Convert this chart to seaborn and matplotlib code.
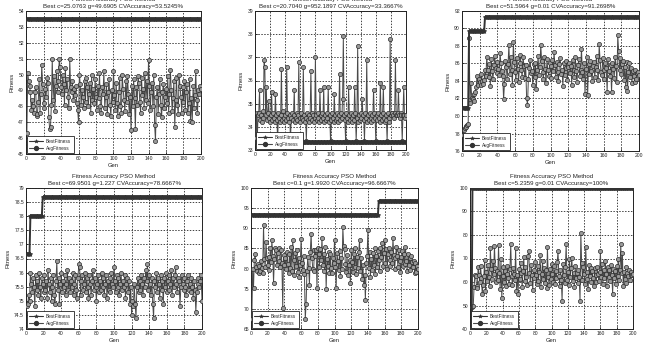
import numpy as np
import matplotlib
matplotlib.use("Agg")
import matplotlib.pyplot as plt
from matplotlib.lines import Line2D
import seaborn as sns

# ---------------- data ----------------
titles = [
    "Fitness Accuracy PSO Method\nBest c=25.0763 g=49.6905 CVAccuracy=53.5245%",
    "Fitness Accuracy PSO Method\nBest c=20.7040 g=952.1897 CVAccuracy=33.3667%",
    "Fitness Accuracy PSO Method\nBest c=51.5964 g=0.01 CVAccuracy=91.2698%",
    "Fitness Accuracy PSO Method\nBest c=69.9501 g=1.227 CVAccuracy=78.6667%",
    "Fitness Accuracy PSO Method\nBest c=0.1 g=1.9920 CVAccuracy=96.6667%",
    "Fitness Accuracy PSO Method\nBest c=5.2359 g=0.01 CVAccuracy=100%",
]

# best fitness: step levels and how many generations each lasts
best1_levels = [53.5245]; best1_lengths = [200]
best2_levels = [33.3667]; best2_lengths = [200]
best3_levels = [80.9524, 89.6825, 91.2698]; best3_lengths = [7, 18, 175]
best4_levels = [76.6667, 78.0, 78.6667]; best4_lengths = [4, 14, 182]
best5_levels = [93.3333, 96.6667]; best5_lengths = [152, 48]
best6_levels = [40.0, 100.0]; best6_lengths = [2, 198]

avg1 = [46.3, 50.1, 49.6, 49.3, 48.9, 47.8, 48.4, 48.0, 47.6, 48.9, 49.2, 47.4, 47.5, 48.3, 49.7, 47.6, 48.8, 50.6, 49.4, 48.2,
        47.9, 49.1, 48.6, 49.8, 49.5, 47.3, 46.6, 46.7, 48.1, 51.0, 48.4, 49.9, 47.7, 49.3, 50.2, 48.9, 49.6, 51.0, 50.5, 49.2,
        48.8, 50.0, 49.4, 48.1, 50.4, 49.0, 49.7, 48.6, 47.9, 51.0, 49.2, 48.9, 49.6, 48.4, 49.1, 48.7, 49.3, 48.2, 47.8, 47.0,
        50.0, 49.4, 48.1, 49.0, 48.6, 47.9, 49.6, 48.3, 49.8, 49.2, 48.0, 48.8, 49.5, 47.6, 50.0, 48.4, 49.1, 48.2, 49.7, 48.6,
        47.8, 49.3, 48.5, 50.1, 48.0, 47.6, 49.2, 48.8, 50.2, 47.9, 48.6, 49.4, 47.5, 48.9, 49.7, 48.1, 47.4, 49.0, 48.3, 50.2,
        48.7, 47.8, 49.5, 48.2, 47.4, 48.9, 49.8, 48.0, 47.6, 50.0, 49.1, 48.4, 47.7, 49.6, 48.3, 49.9, 48.8, 47.5, 48.6, 46.5,
        49.3, 48.0, 49.7, 48.5, 46.6, 49.2, 48.1, 49.9, 49.5, 48.3, 47.6, 49.8, 48.7, 49.1, 47.9, 50.1, 48.4, 49.6, 48.2, 50.9,
        49.3, 47.8, 48.9, 49.5, 48.0, 50.0, 46.8, 45.8, 48.6, 49.2, 47.5, 48.8, 49.7, 48.1, 47.3, 48.9, 49.4, 47.9, 48.6, 49.1,
        48.2, 49.9, 47.6, 48.8, 50.3, 49.0, 47.7, 48.5, 49.6, 46.7, 48.4, 49.8, 48.1, 47.5, 50.0, 49.3, 48.6, 47.6, 49.2, 48.3,
        49.6, 47.8, 48.9, 49.4, 47.6, 48.2, 49.7, 47.1, 48.5, 47.0, 49.3, 47.9, 48.7, 50.2, 48.4, 47.6, 49.0, 48.8, 49.3, 49.1]

avg2 = [33.5, 34.6, 33.4, 34.5, 34.6, 35.6, 34.3, 34.5, 34.2, 34.7, 34.4, 36.9, 36.6, 34.5, 35.7, 34.3, 34.6, 35.1, 34.4, 34.2,
        34.5, 35.5, 34.3, 34.6, 34.4, 34.2, 35.4, 34.5, 34.3, 33.4, 34.6, 34.4, 34.2, 34.5, 36.5, 34.3, 34.7, 34.4, 34.2, 34.5,
        34.3, 36.6, 34.6, 34.4, 34.2, 34.5, 33.4, 34.4, 34.6, 34.3, 34.5, 35.6, 34.2, 34.4, 34.6, 34.3, 34.5, 36.8, 34.4, 34.2,
        34.6, 34.4, 34.3, 36.6, 34.5, 34.2, 34.4, 33.4, 34.6, 34.3, 34.5, 34.2, 34.4, 36.4, 34.6, 34.3, 34.5, 34.2, 34.4, 37.0,
        34.5, 34.3, 34.6, 34.4, 34.2, 35.6, 34.5, 34.3, 34.6, 34.4, 35.7, 34.2, 34.5, 34.3, 34.6, 34.4, 35.7, 34.2, 34.5, 33.4,
        34.3, 34.6, 34.4, 34.2, 35.4, 34.5, 34.3, 34.6, 34.4, 34.2, 34.5, 36.3, 34.3, 34.6, 34.4, 35.2, 37.9, 34.5, 34.3, 33.4,
        34.6, 34.4, 34.2, 35.7, 34.5, 34.3, 34.6, 34.4, 34.2, 34.5, 34.3, 35.7, 34.6, 33.4, 34.4, 37.5, 34.2, 34.5, 34.3, 34.6,
        34.4, 35.2, 34.5, 34.3, 33.4, 34.6, 34.4, 36.9, 34.2, 34.5, 34.3, 34.6, 34.4, 34.2, 34.5, 34.3, 35.6, 34.6, 34.4, 33.4,
        34.5, 34.3, 34.6, 34.4, 34.2, 35.9, 34.5, 34.3, 34.6, 35.7, 34.4, 34.2, 34.5, 34.3, 33.4, 34.6, 34.4, 34.2, 37.8, 34.5,
        34.6, 34.6, 34.5, 34.4, 34.6, 36.9, 34.5, 34.5, 34.6, 35.6, 34.5, 34.4, 34.6, 34.5, 33.4, 34.5, 35.7, 34.5, 34.4, 34.5]

avg3 = [77.8, 78.4, 78.6, 78.9, 78.7, 79.0, 79.1, 88.9, 81.5, 83.8, 82.1, 81.9, 82.5, 81.7, 82.8, 83.3, 84.6, 83.5, 84.2, 83.9,
        83.6, 84.8, 84.0, 83.7, 84.1, 85.3, 84.6, 86.8, 85.2, 84.4, 85.9, 83.4, 86.5, 85.1, 84.2, 85.8, 86.9, 85.5, 84.9, 86.2,
        85.4, 84.7, 87.2, 86.0, 85.1, 84.6, 81.9, 83.7, 86.3, 85.6, 84.2, 85.9, 88.1, 84.8, 86.7, 85.3, 83.5, 88.4, 86.2, 85.0,
        84.1, 86.6, 85.4, 83.9, 86.1, 87.0, 85.2, 84.5, 86.8, 85.7, 84.3, 85.8, 82.0, 81.3, 84.2, 85.5, 86.4, 84.9, 85.1, 83.6,
        85.9, 84.4, 86.1, 83.1, 85.3, 86.9, 84.7, 85.6, 88.1, 86.3, 85.0, 84.2, 86.7, 85.4, 83.8, 86.5, 85.2, 84.6, 86.0, 85.7,
        84.3, 86.4, 85.1, 87.3, 85.8, 84.5, 86.2, 85.0, 84.0, 85.9, 86.6, 84.8, 85.3, 83.4, 86.1, 84.7, 85.5, 86.3, 84.1, 85.6,
        86.0, 84.9, 85.7, 83.6, 86.4, 85.2, 84.4, 86.8, 85.1, 83.9, 85.8, 86.5, 84.6, 85.3, 87.7, 85.0, 84.2, 86.1, 82.5, 85.4,
        86.7, 82.4, 85.9, 84.8, 86.3, 85.1, 84.0, 85.7, 86.2, 84.5, 85.6, 86.9, 85.2, 84.1, 88.2, 86.4, 85.0, 84.7, 86.6, 85.3,
        84.2, 86.0, 85.5, 82.8, 86.5, 85.1, 84.6, 85.8, 82.7, 86.1, 85.4, 84.3, 86.8, 85.7, 83.9, 89.2, 87.4, 85.2, 86.6, 84.8,
        85.9, 86.3, 84.1, 85.6, 83.3, 86.2, 82.9, 85.0, 86.1, 84.4, 85.5, 83.8, 85.1, 84.6, 83.9, 85.3, 84.2, 84.9, 85.0, 84.7]

avg4 = [74.8, 74.9, 75.2, 75.0, 76.0, 75.6, 75.3, 75.8, 75.5, 74.8, 75.9, 75.4, 75.7, 75.2, 76.0, 75.5, 75.1, 75.8, 75.6, 75.3,
        75.9, 75.4, 75.7, 75.1, 76.1, 75.6, 75.3, 75.8, 75.0, 75.5, 75.9, 75.2, 74.9, 75.7, 76.4, 75.4, 75.8, 74.9, 75.6, 76.0,
        75.3, 75.7, 75.5, 75.9, 75.2, 75.6, 76.1, 75.4, 75.8, 75.3, 75.7, 75.5, 76.0, 75.2, 75.6, 75.9, 75.4, 75.1, 75.8, 76.3,
        76.2, 75.2, 75.7, 75.9, 75.4, 75.6, 76.0, 75.3, 75.8, 75.5, 75.1, 75.9, 75.6, 75.2, 75.7, 76.1, 75.4, 75.8, 75.5, 75.0,
        75.6, 75.9, 75.3, 75.7, 75.4, 76.0, 75.5, 75.8, 75.2, 75.6, 75.9, 75.1, 75.7, 75.4, 75.8, 75.3, 76.0, 75.6, 75.5, 76.2,
        75.7, 75.3, 75.9, 75.5, 75.8, 75.2, 75.6, 76.0, 75.4, 75.7, 75.5, 75.9, 75.1, 75.6, 75.8, 75.3, 75.7, 74.9, 75.5, 74.5,
        75.0, 74.8, 75.6, 74.9, 74.4, 75.5, 75.8, 75.3, 75.7, 75.4, 75.9, 75.6, 75.2, 75.8, 75.5, 76.1, 75.7, 76.3, 75.4, 75.9,
        75.6, 75.2, 75.8, 74.9, 74.4, 75.7, 75.5, 76.0, 75.3, 75.8, 75.6, 75.1, 75.9, 75.4, 75.7, 74.9, 75.8, 75.5, 76.0, 75.3,
        75.7, 75.9, 75.4, 75.6, 76.1, 75.2, 75.8, 75.5, 75.9, 76.2, 75.6, 75.3, 75.8, 75.7, 74.8, 75.5, 75.9, 75.6, 75.4, 75.8,
        75.5, 75.2, 75.7, 75.9, 75.4, 75.6, 75.3, 75.8, 75.5, 75.1, 75.7, 75.4, 74.6, 75.3, 75.6, 75.8, 75.5, 75.7, 75.9, 75.0]

avg5 = [67.5, 80.0, 75.2, 82.1, 83.5, 80.4, 79.3, 81.2, 78.8, 80.6, 79.5, 81.8, 80.1, 79.0, 90.7, 82.3, 80.5, 86.5, 82.6, 81.0,
        82.9, 79.6, 85.0, 81.7, 87.0, 83.2, 76.5, 82.4, 85.2, 84.6, 80.8, 83.9, 85.1, 82.0, 80.3, 84.7, 81.5, 70.2, 83.3, 80.9,
        82.6, 79.8, 84.2, 81.1, 78.9, 83.6, 80.2, 85.3, 79.4, 87.2, 82.1, 78.5, 83.8, 80.6, 84.5, 79.1, 82.7, 78.0, 80.9, 87.4,
        81.4, 79.7, 83.0, 78.6, 67.5, 71.2, 79.4, 82.8, 80.1, 76.0, 84.2, 88.6, 82.5, 80.0, 79.3, 84.7, 83.1, 84.5, 75.2, 85.1,
        83.6, 80.4, 84.9, 82.2, 87.6, 81.0, 83.7, 79.5, 85.4, 75.0, 82.3, 80.7, 84.1, 78.8, 83.5, 80.2, 79.0, 82.6, 81.3, 87.1,
        80.5, 75.3, 83.8, 81.9, 79.6, 84.3, 78.2, 82.7, 80.0, 90.2, 85.5, 84.9, 81.2, 79.1, 83.4, 78.3, 80.8, 82.1, 76.4, 84.6,
        81.7, 79.2, 83.5, 80.3, 85.0, 78.6, 82.9, 80.1, 84.2, 87.0, 79.4, 82.6, 77.5, 80.9, 76.0, 78.4, 72.3, 81.3, 83.1, 89.6,
        80.2, 84.0, 77.9, 82.4, 79.6, 83.8, 81.0, 85.2, 78.7, 83.0, 80.5, 84.4, 82.1, 79.3, 85.1, 82.8, 86.3, 80.6, 83.9, 87.2,
        81.4, 84.8, 79.9, 83.6, 85.0, 82.2, 80.7, 84.1, 81.5, 87.5, 83.3, 79.8, 82.6, 85.4, 83.0, 80.4, 84.7, 81.9, 79.1, 82.8,
        84.3, 80.6, 83.5, 81.2, 85.3, 82.0, 79.4, 83.7, 80.8, 82.5, 79.7, 83.1, 81.6, 80.3, 82.0, 78.9, 81.4, 79.2, 80.7, 79.8]

avg6 = [40.0, 40.3, 49.5, 50.0, 58.0, 63.0, 62.5, 58.2, 57.5, 66.5, 63.0, 60.2, 66.8, 61.5, 55.0, 58.7, 62.4, 69.5, 56.3, 64.1,
        60.5, 67.2, 62.0, 58.4, 74.3, 65.6, 61.2, 68.9, 63.5, 75.5, 66.0, 59.8, 64.7, 61.0, 75.6, 63.9, 57.2, 69.8, 53.0, 62.4,
        66.3, 60.1, 64.8, 58.5, 63.2, 67.0, 61.6, 59.0, 65.4, 76.0, 62.7, 58.9, 66.1, 63.4, 60.8, 74.5, 56.0, 62.9, 55.0, 65.7,
        61.3, 68.0, 63.7, 57.9, 64.5, 70.7, 60.4, 66.2, 62.1, 58.6, 71.0, 73.0, 64.0, 59.6, 67.4, 62.8, 56.4, 65.1, 61.7, 68.3,
        63.0, 59.2, 66.7, 60.6, 64.2, 71.5, 58.0, 63.6, 69.0, 61.2, 66.0, 59.5, 64.9, 57.6, 75.0, 62.3, 58.8, 65.6, 61.4, 67.8,
        63.3, 60.0, 66.9, 59.1, 64.6, 61.8, 68.5, 73.0, 62.6, 58.3, 65.3, 60.9, 52.0, 67.7, 63.1, 59.4, 66.4, 76.0, 61.0, 64.3,
        58.7, 70.0, 62.2, 65.8, 70.2, 60.3, 64.0, 57.8, 66.6, 61.9, 63.8, 59.7, 65.2, 62.0, 51.8, 81.0, 68.1, 60.7, 66.3, 63.6,
        59.3, 75.0, 64.4, 61.1, 57.0, 67.3, 62.5, 66.0, 60.2, 64.7, 61.5, 58.1, 65.9, 62.9, 59.9, 66.5, 63.2, 60.6, 64.1, 73.0,
        62.2, 67.6, 59.0, 65.0, 61.6, 68.8, 63.4, 58.5, 66.2, 62.0, 64.9, 60.4, 67.1, 63.0, 55.0, 65.5, 61.8, 64.6, 59.2, 66.8,
        62.5, 69.9, 60.9, 65.3, 76.0, 63.7, 72.5, 58.2, 64.2, 61.3, 66.4, 59.6, 63.9, 62.7, 65.0, 60.8, 64.4, 63.1, 62.8, 63.5]

yticks1 = [45, 46, 47, 48, 49, 50, 51, 52, 53, 54]
yticks2 = [33, 34, 35, 36, 37, 38, 39]
yticks3 = [76, 78, 80, 82, 84, 86, 88, 90, 92]
yticks4 = [74, 74.5, 75, 75.5, 76, 76.5, 77, 77.5, 78, 78.5, 79]
yticks5 = [65, 70, 75, 80, 85, 90, 95, 100]
yticks6 = [40, 50, 60, 70, 80, 90, 100]
xticks = [0, 20, 40, 60, 80, 100, 120, 140, 160, 180, 200]
legend_labels = ["BestFitness", "AvgFitness"]

# ---------------- style ----------------
sns.set_theme(style="ticks")
plt.rcParams['font.family'] = ['Liberation Sans', 'DejaVu Sans']

W, H = 647, 347
fig = plt.figure(figsize=(W / 100, H / 100), dpi=100)
fig.patch.set_facecolor("white")

# axes boxes in pixels: left, right, top, bottom
boxes = [(26, 201, 11, 154), (255, 406, 11, 150), (462, 639, 11, 151),
         (26, 202, 188, 329), (251, 418, 188, 329), (470, 633, 188, 329)]

panels = [
    (best1_levels, best1_lengths, avg1, yticks1),
    (best2_levels, best2_lengths, avg2, yticks2),
    (best3_levels, best3_lengths, avg3, yticks3),
    (best4_levels, best4_lengths, avg4, yticks4),
    (best5_levels, best5_lengths, avg5, yticks5),
    (best6_levels, best6_lengths, avg6, yticks6),
]

best_color = "#333333"
avg_color = "#4a4a4a"

for i, ((lv, ln, avg, yt), (l, r, t, b)) in enumerate(zip(panels, boxes)):
    ax = fig.add_axes([l / W, (H - b) / H, (r - l) / W, (b - t) / H])
    best = np.repeat(lv, ln)
    gens_b = np.arange(1, len(best) + 1)
    gens_a = np.arange(1, len(avg) + 1)

    ax.grid(True, linestyle=(0, (1.5, 1.5)), color="#444444", linewidth=0.7)
    ax.set_axisbelow(True)

    sns.lineplot(x=gens_a, y=avg, ax=ax, color=avg_color, linewidth=0.7,
                 marker="o", markersize=3.0, markerfacecolor="#9a9a9a",
                 markeredgecolor="#2a2a2a", markeredgewidth=0.5, zorder=3)
    sns.lineplot(x=gens_b, y=best, ax=ax, color=best_color, linewidth=1.4,
                 marker="*", markersize=3.4, markeredgewidth=0.5,
                 markeredgecolor=best_color, zorder=4)

    ax.set_xlim(0, 200)
    ax.set_ylim(yt[0], yt[-1])
    ax.set_xticks(xticks)
    ax.set_yticks(yt)
    ax.set_yticklabels(["%g" % v for v in yt])
    ax.tick_params(axis="both", labelsize=3.6, length=2, width=0.5,
                   direction="in", pad=1.5, colors="#222222")
    for s in ax.spines.values():
        s.set_color("#222222")
        s.set_linewidth(0.7)
    ax.set_xlabel("Gen", fontsize=4.2, labelpad=1.5, color="#222222")
    ax.set_ylabel("Fitness", fontsize=4.2, labelpad=2.5, color="#222222")
    ax.set_title(titles[i], fontsize=4.4, pad=2.5, linespacing=1.3,
                 color="#222222")

    handles = [
        Line2D([], [], color=best_color, linewidth=0.8, marker="*",
               markersize=2.8, markeredgewidth=0.4),
        Line2D([], [], color=avg_color, linewidth=0.8, marker="o",
               markersize=2.8, markerfacecolor="#333333",
               markeredgecolor="#333333"),
    ]
    leg = ax.legend(handles, legend_labels, loc="lower left", fontsize=3.4,
                    frameon=True, fancybox=False, borderpad=0.5,
                    handlelength=3.0, handletextpad=0.6, labelspacing=0.5,
                    borderaxespad=0.15, framealpha=1)
    leg.get_frame().set_edgecolor("#222222")
    leg.get_frame().set_linewidth(0.6)
    leg.set_zorder(10)

fig.savefig("out.png", dpi=100, facecolor="white")
